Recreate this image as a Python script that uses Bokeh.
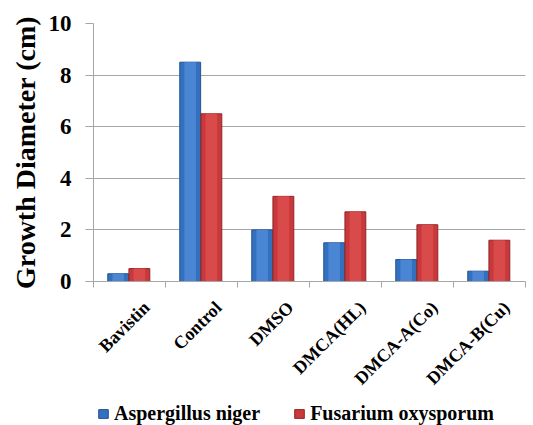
from math import pi

from bokeh.embed import file_html
from bokeh.layouts import column
from bokeh.models import (ColumnDataSource, FixedTicker, LabelSet, Legend,
                          LegendItem, Range1d)
from bokeh.plotting import figure
from bokeh.resources import INLINE

# Growth diameter of two fungi under each treatment
treatments = ["Bavistin", "Control", "DMSO", "DMCA(HL)", "DMCA-A(Co)", "DMCA-B(Cu)"]
aspergillus_niger = [0.3, 8.5, 2.0, 1.5, 0.85, 0.4]
fusarium_oxysporum = [0.5, 6.5, 3.3, 2.7, 2.2, 1.6]
series_names = ["Aspergillus niger", "Fusarium oxysporum"]
y_ticks = [0, 2, 4, 6, 8, 10]

SERIF = "Liberation Serif"
GRID = "#a6a6a6"
BLUE, BLUE_EDGE, BLUE_HI = "#3470c0", "#25528f", "#4a86d4"
RED, RED_EDGE, RED_HI = "#c9383a", "#8f2627", "#d94a4b"

# layout (pixels)
W, LEFT, RIGHT, TOP = 533, 93, 8, 23
FRAME_W, FRAME_H = 432, 258
AXIS_BOTTOM = 12
LOWER_H = 425 - TOP - FRAME_H - AXIS_BOTTOM
NAME_DROP = 11          # category names: distance below the top of the lower strip
NAME_SHIFT = 17         # category names: end point right of the group centre

n = len(treatments)
px_per_cat = FRAME_W / n
centers = [i + 0.5 for i in range(n)]
bar_w = 0.29
shift = 0.147

src = ColumnDataSource(dict(
    x_a=[c - 0.01 - shift for c in centers],
    x_f=[c - 0.01 + shift for c in centers],
    a=aspergillus_niger,
    f=fusarium_oxysporum,
))

# ---- chart area ----
p = figure(
    frame_width=FRAME_W, frame_height=FRAME_H,
    x_range=Range1d(0, n), y_range=Range1d(0, 10),
    output_backend="svg", toolbar_location=None,
    min_border_left=LEFT, min_border_right=RIGHT, min_border_top=TOP,
    min_border_bottom=AXIS_BOTTOM,
    background_fill_color="white", border_fill_color="white",
)
p.outline_line_color = None

# bars with a lighter centre strip for a bevelled look
p.vbar(x="x_a", top="a", width=bar_w, source=src,
       fill_color=BLUE, line_color=BLUE_EDGE, line_width=1)
p.vbar(x="x_a", top="a", width=bar_w * 0.55, source=src,
       fill_color=BLUE_HI, line_color=None)
p.vbar(x="x_f", top="f", width=bar_w, source=src,
       fill_color=RED, line_color=RED_EDGE, line_width=1)
p.vbar(x="x_f", top="f", width=bar_w * 0.55, source=src,
       fill_color=RED_HI, line_color=None)

p.yaxis.ticker = FixedTicker(ticks=y_ticks)
p.yaxis.axis_label = "Growth Diameter (cm)"
p.yaxis.axis_label_text_font = SERIF
p.yaxis.axis_label_text_font_style = "bold"
p.yaxis.axis_label_text_font_size = "28px"
p.yaxis.axis_label_text_color = "black"
p.yaxis.axis_label_standoff = 5
p.yaxis.major_label_text_font = SERIF
p.yaxis.major_label_text_font_style = "bold"
p.yaxis.major_label_text_font_size = "23px"
p.yaxis.major_label_text_color = "black"
p.yaxis.major_label_standoff = 14
p.yaxis.axis_line_color = GRID
p.yaxis.major_tick_line_color = GRID
p.yaxis.major_tick_out = 8
p.yaxis.major_tick_in = 0
p.yaxis.minor_tick_line_color = None

# x axis carries only the group-boundary ticks
p.xaxis.ticker = FixedTicker(ticks=[], minor_ticks=list(range(n + 1)))
p.xaxis.major_label_text_font_size = "0px"
p.xaxis.major_label_standoff = 0
p.xaxis.axis_line_color = GRID
p.xaxis.major_tick_line_color = None
p.xaxis.minor_tick_line_color = GRID
p.xaxis.minor_tick_out = 6
p.xaxis.minor_tick_in = 0

p.xgrid.grid_line_color = None
p.ygrid.grid_line_color = GRID

# ---- category names and legend strip (frame lines up with the chart's) ----
lo = figure(
    frame_width=W, frame_height=LOWER_H,
    x_range=Range1d(0, W / px_per_cat),
    y_range=Range1d(0, LOWER_H),
    x_axis_type=None, y_axis_type=None,
    output_backend="svg", toolbar_location=None,
    min_border_left=0, min_border_right=0, min_border_top=0, min_border_bottom=0,
    background_fill_color="white", border_fill_color="white",
)
lo.outline_line_color = None
lo.grid.grid_line_color = None

names = ColumnDataSource(dict(
    x=[c + NAME_SHIFT / px_per_cat for c in centers],
    y=[LOWER_H - NAME_DROP] * n,
    name=treatments,
))
lo.add_layout(LabelSet(
    x="x", y="y", text="name", source=names,
    angle=pi / 4, text_align="right", text_baseline="middle",
    text_font=SERIF, text_font_style="bold", text_font_size="18px",
    text_color="black",
))

# legend keys (nothing drawn in the strip itself)
nan = float("nan")
key_a = lo.vbar(x=[nan], top=[nan], width=bar_w, fill_color=BLUE, line_color=BLUE_EDGE)
key_f = lo.vbar(x=[nan], top=[nan], width=bar_w, fill_color=RED, line_color=RED_EDGE)

legend = Legend(
    items=[LegendItem(label=series_names[0], renderers=[key_a]),
           LegendItem(label=series_names[1], renderers=[key_f])],
    orientation="horizontal", location=(97, 0),
    label_text_font=SERIF, label_text_font_style="bold",
    label_text_font_size="20px", label_text_color="black",
    glyph_width=12, glyph_height=11, spacing=33, label_standoff=5,
    border_line_color=None, background_fill_alpha=0,
    margin=0, padding=2,
)
lo.add_layout(legend)

layout = column(p, lo, spacing=0)
open("out.html", "w").write(file_html(layout, INLINE))
